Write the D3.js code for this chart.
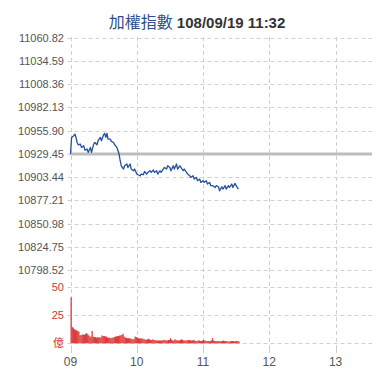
<!DOCTYPE html>
<html><head><meta charset="utf-8">
<script src="https://cdn.jsdelivr.net/npm/d3@7"></script>
<style>body{margin:0;background:#fff}svg{display:block}</style>
</head><body>
<svg id="c" width="380" height="380"></svg>
<script>
const titleName = "加權指數";
const titleTime = "108/09/19 11:32";
const prevClose = 10929.45;
const priceTicks = [11060.82, 11034.59, 11008.36, 10982.13, 10955.90, 10929.45, 10903.44, 10877.21, 10850.98, 10824.75, 10798.52];
const hourTicks = [0, 60, 120, 180, 240];
const hourLabels = ["09", "10", "11", "12", "13"];
const volTicks = [50, 25, 0];
const volLabels = ["50", "25", "億"];
// minutes after 09:00
const priceMinutes = [0,1,3,4,5,6,7,9,10,12,13,15,16,18,19,21,22,24,25,27,28,30,31,32,33,34,36,37,39,40,42,43,44,45,46,48,49,51,52,54,55,57,58,60,61,63,64,66,67,69,70,72,73,75,76,78,79,81,82,84,85,87,88,90,91,93,94,96,97,99,100,102,103,105,106,108,109,111,112,114,115,117,118,120,121,123,124,126,127,129,131,132,134,135,137,138,140,141,143,144,146,147,149,150,151,152];
const priceValues = [10929.45,10948.2,10950.1,10952.0,10948.2,10942.5,10939.9,10940.7,10936.9,10938.8,10933.9,10935.1,10931.3,10936.9,10931.3,10940.7,10942.5,10939.9,10944.5,10948.2,10944.5,10951.2,10952.7,10948.2,10952.7,10946.4,10946.4,10943.7,10942.5,10939.9,10936.9,10933.2,10929.45,10921.9,10916.2,10912.5,10916.2,10918.2,10914.3,10918.2,10912.5,10910.6,10912.5,10906.9,10906.1,10904.9,10906.9,10906.1,10909.8,10906.9,10908.7,10910.6,10908.7,10911.4,10908.7,10910.6,10906.9,10910.6,10908.7,10912.5,10914.3,10912.5,10916.2,10914.3,10910.6,10916.2,10912.5,10918.2,10912.5,10916.2,10914.3,10910.6,10912.5,10908.7,10906.9,10904.9,10903.0,10904.9,10901.2,10903.0,10899.3,10901.2,10897.4,10899.3,10897.4,10899.3,10895.6,10897.4,10893.7,10893.7,10891.7,10893.7,10892.5,10888.0,10892.5,10889.9,10893.7,10889.9,10893.7,10891.7,10895.6,10891.7,10896.3,10893.7,10891.7,10889.9];
// volume per minute (億), minute 0..152
const volumes = [41,14.5,13.5,12.5,12,11.5,11,10.5,7,7.5,7.5,8,7.5,8.5,9,8,7,6,6,11,6,5.5,5.5,5,5.5,5,5.5,5,7,6.5,6.5,6,6,5,5,5,4.5,5,5,5.5,6,6,6.5,6.5,7,7,7.5,8.5,6,5,5,4.5,4.5,4.5,4,4,3.5,3.5,6,5.5,5,4.5,4.5,4,4.5,4,3.5,3.5,3,3.5,4,3.5,3,3,3.5,3,3,2.5,2.5,2.5,2.5,2.5,2.5,2.5,3,3,2.5,2.5,3,3,4.5,3,2.5,2.5,3.5,3,2.5,2.5,2.5,3,3.5,3,2.5,2.5,2.5,2.5,3,3,2.5,2.5,2.5,3,2.5,2,2,2.5,2.5,2,2,2.5,3,2.5,2,2,2,2,2,2.5,4.5,2.5,2,2,2,2,2,1.5,2,2,2.5,2,2,2,1.5,1.5,2,2,2,2,1.5,2,2,2,1.5];

const svg = d3.select("#c");
const font = "'Liberation Sans', Arial, sans-serif";
const left = 70.5, right = 372;
const x = d3.scaleLinear().domain([0, 273]).range([left, right]);
const y = d3.scaleLinear().domain([10798.52, 11060.82]).range([270, 37.7]);
const yv = d3.scaleLinear().domain([0, 50]).range([343.3, 287.3]);

// title
const t = svg.append("text").attr("x", 197).attr("y", 28).attr("text-anchor", "middle").style("font-family", font);
t.append("tspan").text(titleName).attr("fill", "#2f4f8c").style("font-size", "16px").style("font-family", "'Noto Sans CJK TC', sans-serif");
t.append("tspan").text(" " + titleTime).attr("fill", "#333").style("font-size", "15px").style("font-weight", "bold");

const grid = svg.append("g").attr("stroke", "#d0d0d0").attr("stroke-dasharray", "4,3").attr("stroke-width", 1);
// horizontal grid price
grid.selectAll("line.hp").data(priceTicks).join("line")
  .attr("x1", left - 3).attr("x2", right)
  .attr("y1", d => Math.round(y(d)) + 0.5).attr("y2", d => Math.round(y(d)) + 0.5);
grid.selectAll("line.hv").data(volTicks).join("line").attr("class", "hv")
  .attr("x1", left - 3).attr("x2", right)
  .attr("y1", d => Math.round(yv(d)) + 0.5).attr("y2", d => Math.round(yv(d)) + 0.5);
// vertical grid
grid.selectAll("line.v").data(hourTicks).join("line").attr("class", "v")
  .attr("x1", d => Math.round(x(d)) + 0.5).attr("x2", d => Math.round(x(d)) + 0.5)
  .attr("y1", 37).attr("y2", 352);
svg.append("g").attr("stroke", "#ccc").selectAll("line").data(hourTicks).join("line")
  .attr("x1", d => Math.round(x(d)) + 0.5).attr("x2", d => Math.round(x(d)) + 0.5)
  .attr("y1", 347).attr("y2", 353);

// price labels
svg.append("g").selectAll("text").data(priceTicks).join("text")
  .attr("x", 64).attr("y", d => y(d) + 4).attr("text-anchor", "end")
  .attr("fill", "#555").style("font-size", "11px").style("font-family", font)
  .text(d => d.toFixed(2));
// volume labels
svg.append("g").selectAll("text").data(volTicks).join("text")
  .attr("x", 64).attr("y", d => yv(d) + 4).attr("text-anchor", "end")
  .attr("fill", "#c9393a").style("font-size", "11px").style("font-family", (d, i) => i === 2 ? "'Noto Sans CJK TC', sans-serif" : font)
  .text((d, i) => volLabels[i]);
// hour labels
svg.append("g").selectAll("text").data(hourTicks).join("text")
  .attr("x", d => x(d)).attr("y", 366).attr("text-anchor", "middle")
  .attr("fill", "#555").style("font-size", "12px").style("font-family", font)
  .text((d, i) => hourLabels[i]);

// prev close line
svg.append("line").attr("x1", left).attr("x2", right)
  .attr("y1", y(prevClose)).attr("y2", y(prevClose))
  .attr("stroke", "#bdbdbd").attr("stroke-width", 3);

// volume bars
svg.append("g").attr("fill", "#dc3d3d").selectAll("rect").data(volumes).join("rect")
  .attr("x", (d, i) => x(i)).attr("width", (d, i) => x(i + 1) - x(i) + 0.2)
  .attr("y", d => yv(d)).attr("height", d => yv(0) - yv(d));

// price line
const pts = priceMinutes.map((m, i) => [m, priceValues[i]]);
svg.append("path").datum(pts)
  .attr("fill", "none").attr("stroke", "#23509f").attr("stroke-width", 1.3)
  .attr("stroke-linejoin", "round")
  .attr("d", d3.line().x(d => x(d[0])).y(d => y(d[1])));
</script>
</body></html>
